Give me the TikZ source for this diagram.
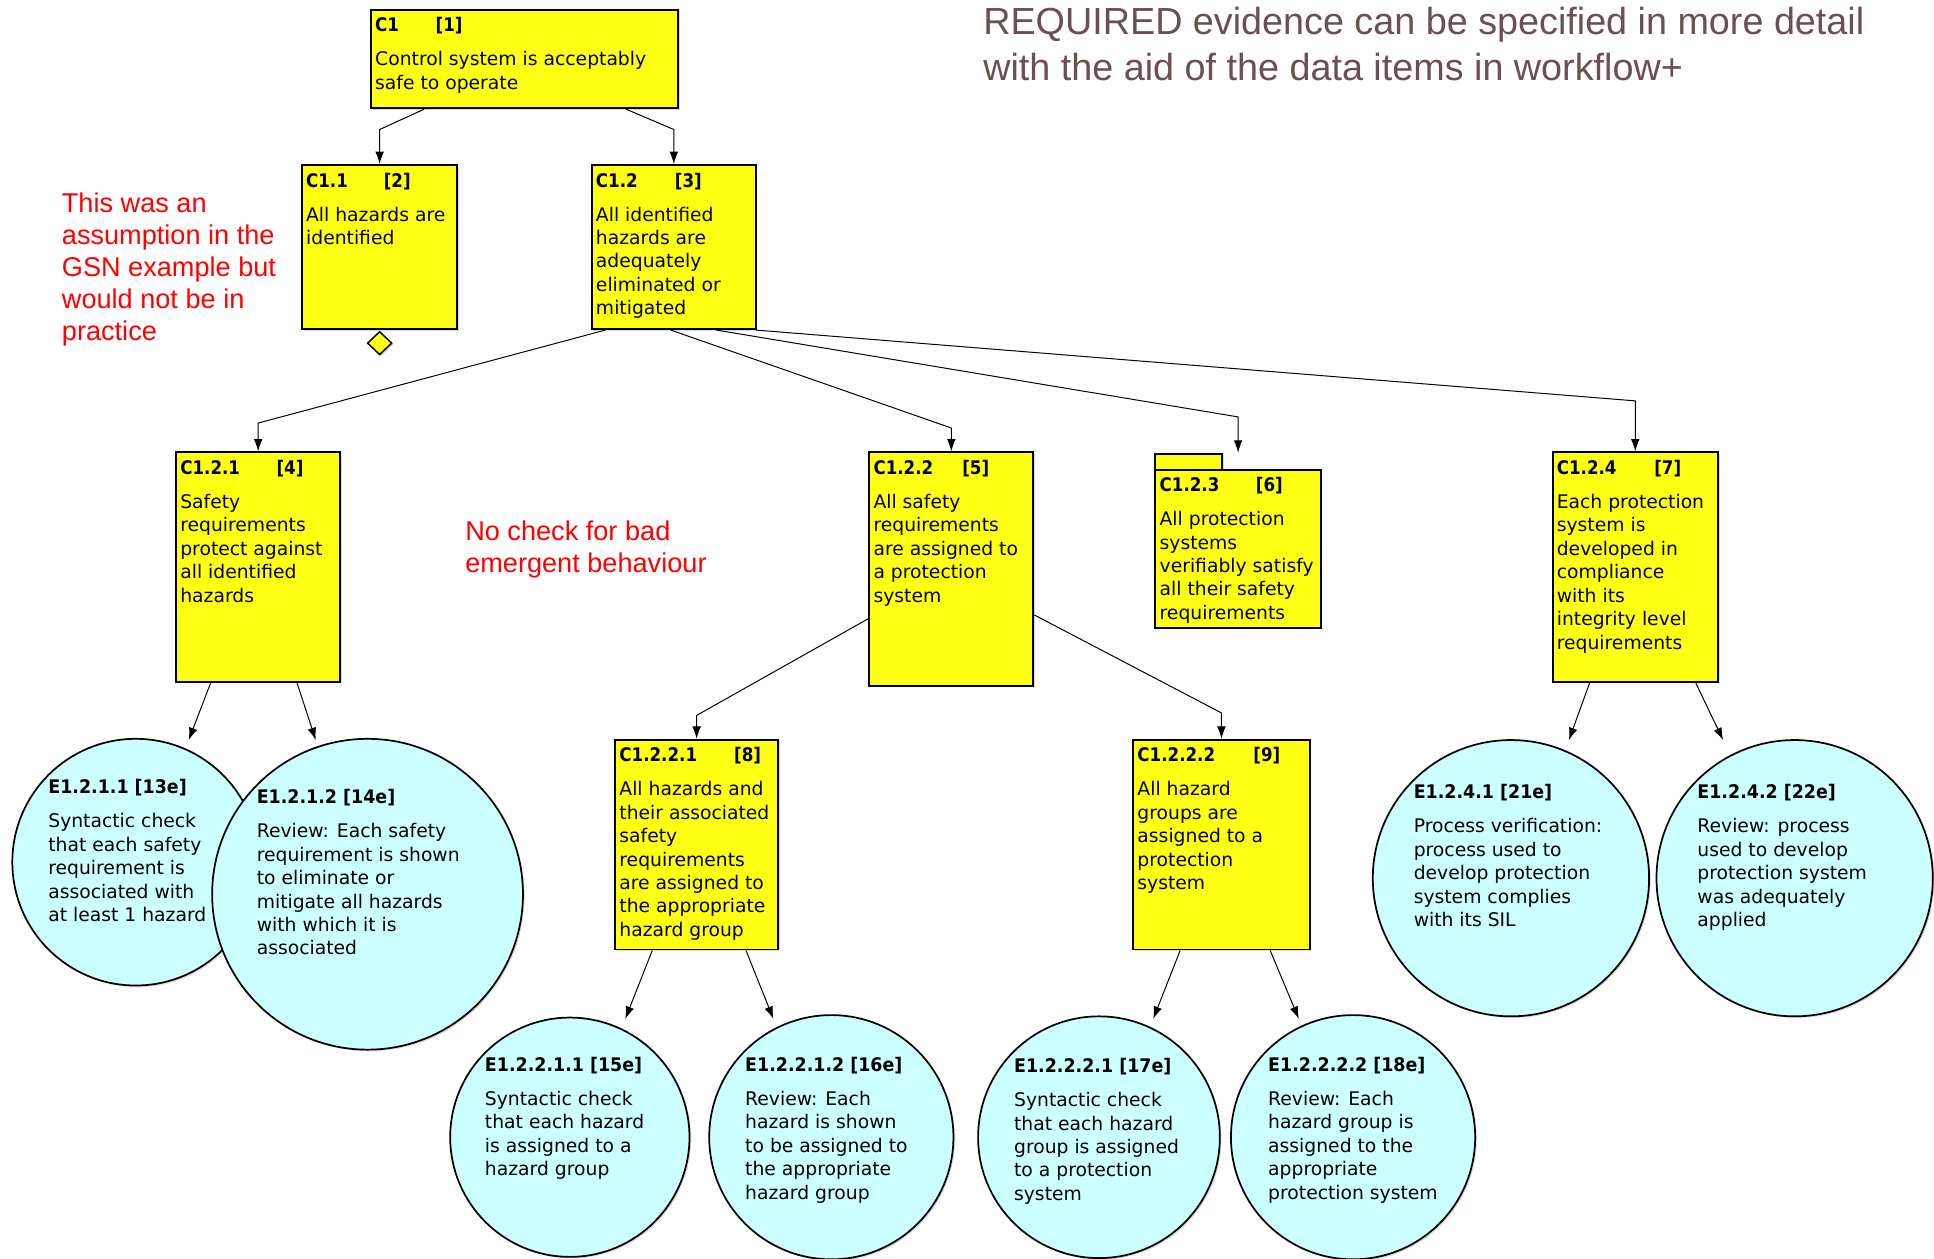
\documentclass[tikz,border=0pt]{standalone}
\usepackage{graphicx}
\usepackage{fontspec}
\setmainfont{DejaVu Sans}
\newfontfamily\notefont{Liberation Sans}
\usetikzlibrary{arrows.meta,calc,shadows,shapes.geometric}

\definecolor{goalyellow}{RGB}{255,255,20}
\definecolor{evcyan}{RGB}{204,255,255}
\definecolor{notered}{RGB}{255,0,0}
\definecolor{headgrey}{RGB}{108,80,80}

\newcommand{\bodyfont}{\fontsize{15.2}{19}\selectfont}
\newcommand{\idfont}{\fontsize{15.2}{19}\selectfont\bfseries}
% bold identifiers are set a little narrower than the body text
\newcommand{\goalid}[1]{\scalebox{0.89}[1]{\idfont #1}}
\newcommand{\evid}[1]{\scalebox{0.93}[1]{\idfont #1}}

\tikzset{
  goal/.style={draw=black, line width=1.6pt, fill=goalyellow, rectangle,
    inner sep=0pt, anchor=north west,
    drop shadow={shadow xshift=1.3pt, shadow yshift=-1.3pt, opacity=0.3}},
  evidence/.style={draw=black, line width=1.4pt, fill=evcyan, circle, inner sep=0pt,
    drop shadow={shadow xshift=1.3pt, shadow yshift=-1.3pt, opacity=0.3}},
  boxtext/.style={anchor=north west, inner sep=0pt, align=left, font=\bodyfont},
  remark/.style={anchor=north west, inner sep=0pt, align=left, text=notered,
    font=\notefont\fontsize{22}{26}\selectfont},
  headline/.style={anchor=north west, inner sep=0pt, align=left, text=headgrey,
    font=\notefont\fontsize{30.6}{37}\selectfont},
  link/.style={draw=black, line width=0.8pt, -{Latex[length=10pt,width=7pt]}},
}

% goal box: name, left, top, width, height, id, bracket offset, number, body
\newcommand{\goalnode}[9]{%
  \node[goal, minimum width=#4pt, minimum height=#5pt] (#1) at (#2,#3) {};
  \node[boxtext] (#1-text) at ($(#1.north west)+(4,5.2)$)
    {\strut\makebox[#7pt][l]{\goalid{#6}}\goalid{[#8]}\\[8.5pt]#9};
}
% evidence circle: name, centre x, centre y, diameter, text x, title y, title, body
\newcommand{\evnode}[8]{%
  \node[evidence, minimum size=#4pt] (#1) at (#2,#3) {};
  \node[boxtext] (#1-text) at (#5,#6-6.8)
    {\strut\evid{#7}\\[8.5pt]#8};
}

\begin{document}
\begin{tikzpicture}[x=1pt,y=-1pt]
\fill[white] (0,0) rectangle (1568,1020);
\useasboundingbox (0,0) rectangle (1568,1020);

% goals
\goalnode{c1}{300}{7}{249}{80}{C1}{49}{1}{Control system is acceptably\\safe to operate}
\goalnode{c11}{244}{133}{126}{133}{C1.1}{63}{2}{All hazards are\\identified}
\goalnode{c12}{479}{133}{133}{133}{C1.2}{64}{3}{All identified\\hazards are\\adequately\\eliminated or\\mitigated}
\goalnode{c121}{142}{366}{133}{186}{C1.2.1}{78}{4}{Safety\\requirements\\protect against\\all identified\\hazards}
\goalnode{c122}{704}{366}{133}{189}{C1.2.2}{72}{5}{All safety\\requirements\\are assigned to\\a protection\\system}
\node[goal, minimum width=54pt, minimum height=13pt] (c123-tab) at (936,367) {};
\goalnode{c123}{936}{380}{134}{128}{C1.2.3}{78}{6}{All protection\\systems\\verifiably satisfy\\all their safety\\requirements}
\goalnode{c124}{1258}{366}{134}{186}{C1.2.4}{79}{7}{Each protection\\system is\\developed in\\compliance\\with its\\integrity level\\requirements}
\goalnode{c1221}{498}{599}{132}{170}{C1.2.2.1}{93}{8}{All hazards and\\their associated\\safety\\requirements\\are assigned to\\the appropriate\\hazard group}
\goalnode{c1222}{918}{599}{143}{170}{C1.2.2.2}{94}{9}{All hazard\\groups are\\assigned to a\\protection\\system}

% undeveloped marker under C1.1
\node[diamond, draw=black, line width=1.2pt, fill=goalyellow, inner sep=0pt,
  minimum width=20pt, minimum height=19pt, anchor=north,
  drop shadow={shadow xshift=1.2pt, shadow yshift=-1.2pt, opacity=0.3}] (c11-diamond)
  at ($(c11.south)+(0,0.5)$) {};

% evidence
\evnode{e13}{110}{699}{200}{39}{637}{E1.2.1.1 [13e]}{Syntactic check\\that each safety\\requirement is\\associated with\\at least 1 hazard}
\evnode{e14}{298}{725}{252}{208}{645}{E1.2.1.2 [14e]}{Review: Each safety\\requirement is shown\\to eliminate or\\mitigate all hazards\\with which it is\\associated}
\evnode{e15}{462}{922}{194}{393}{862}{E1.2.2.1.1 [15e]}{Syntactic check\\that each hazard\\is assigned to a\\hazard group}
\evnode{e16}{674}{922}{198}{604}{862}{E1.2.2.1.2 [16e]}{Review: Each\\hazard is shown\\to be assigned to\\the appropriate\\hazard group}
\evnode{e17}{891}{922}{196}{822}{863}{E1.2.2.2.1 [17e]}{Syntactic check\\that each hazard\\group is assigned\\to a protection\\system}
\evnode{e18}{1097}{922}{198}{1028}{862}{E1.2.2.2.2 [18e]}{Review: Each\\hazard group is\\assigned to the\\appropriate\\protection system}
\evnode{e21}{1225}{712}{224}{1146}{641}{E1.2.4.1 [21e]}{Process verification:\\process used to\\develop protection\\system complies\\with its SIL}
\evnode{e22}{1455}{712}{224}{1376}{641}{E1.2.4.2 [22e]}{Review: process\\used to develop\\protection system\\was adequately\\applied}

% goal decomposition
\draw[link] ($(c1.south)+(-81.5,0)$) -- ($(c11.north)+(0,-28)$) -- (c11.north);
\draw[link] ($(c1.south)+(82.5,0)$) -- ($(c12.north)+(0,-28)$) -- (c12.north);
\draw[link] ($(c12.south)+(-55.5,0)$) -- ($(c121.north)+(0,-23)$) -- (c121.north);
\draw[link] ($(c12.south)+(-2.5,0)$) -- ($(c122.north)+(0,-19)$) -- (c122.north);
\coordinate (c123-in) at ($(c123.north)+(0,-13)$);
\draw[link] ($(c12.south)+(34.5,0)$) -- ($(c123-in)+(0,-29)$) -- (c123-in);
\draw[link] ($(c12.south)+(66.5,0)$) -- ($(c124.north)+(0,-41)$) -- (c124.north);
\draw[link] ($(c122.south west)+(0,-55)$) -- ($(c1221.north)+(0,-19)$) -- (c1221.north);
\draw[link] ($(c122.south east)+(0,-58)$) -- ($(c1222.north)+(0,-21)$) -- (c1222.north);

% solutions
\draw[link] ($(c121.south)+(-38.5,0)$) -- ($(e13.center)+(43,-99)$);
\draw[link] ($(c121.south)+(31.5,0)$) -- ($(e14.center)+(-42,-125)$);
\draw[link] ($(c1221.south)+(-36,0)$) -- ($(e15.center)+(45,-96)$);
\draw[link] ($(c1221.south)+(40,0)$) -- ($(e16.center)+(-47,-96)$);
\draw[link] ($(c1222.south)+(-33.5,0)$) -- ($(e17.center)+(44,-96)$);
\draw[link] ($(c1222.south)+(39.5,0)$) -- ($(e18.center)+(-44,-96)$);
\draw[link] ($(c124.south)+(-37,0)$) -- ($(e21.center)+(47,-112)$);
\draw[link] ($(c124.south)+(49,0)$) -- ($(e22.center)+(-58,-112)$);

% annotations
\node[remark] (note-assumption) at (50,153.8)
  {\strut This was an\\assumption in the\\GSN example but\\would not be in\\practice};
\node[remark] (note-emergent) at (377,419.8)
  {\strut No check for bad\\emergent behaviour};
\node[headline] (note-required) at (797,2.1)
  {\strut REQUIRED evidence can be specified in more detail\\with the aid of the data items in workflow+};
\end{tikzpicture}
\end{document}
